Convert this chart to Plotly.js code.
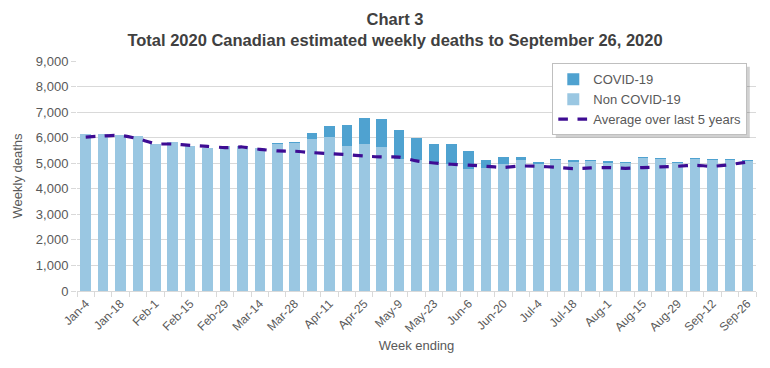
<!DOCTYPE html>
<html>
<head>
<meta charset="utf-8">
<script src="https://cdn.plot.ly/plotly-3.0.1.min.js"></script>
<style>html,body{margin:0;padding:0;background:#fff;}#chart{width:770px;height:368px;}</style>
</head>
<body>
<div id="chart"></div>
<script>
const weeks = ["Jan-4","Jan-11","Jan-18","Jan-25","Feb-1","Feb-8","Feb-15","Feb-22","Feb-29","Mar-7",
  "Mar-14","Mar-21","Mar-28","Apr-4","Apr-11","Apr-18","Apr-25","May-2","May-9","May-16",
  "May-23","May-30","Jun-6","Jun-13","Jun-20","Jun-27","Jul-4","Jul-11","Jul-18","Jul-25",
  "Aug-1","Aug-8","Aug-15","Aug-22","Aug-29","Sep-5","Sep-12","Sep-19","Sep-26"];
const nonCovid = [6130,6130,6100,6065,5765,5815,5690,5595,5690,5660,
  5610,5770,5800,5965,6030,5660,5765,5630,5180,5130,
  5010,4985,4760,4830,4960,5115,4985,5125,5060,5100,
  5020,5020,5200,5180,5010,5180,5115,5115,5090];
const covid = [0,0,0,0,0,0,0,0,0,0,
  0,35,35,205,420,820,990,1085,1110,855,
  755,755,705,285,295,135,65,55,55,25,
  65,30,45,40,40,40,35,35,25];
const avg5 = [6025,6065,6090,5960,5765,5750,5700,5660,5610,5635,
  5545,5480,5470,5415,5375,5335,5280,5245,5240,5090,
  5010,4960,4925,4880,4835,4890,4880,4840,4790,4815,
  4830,4800,4830,4855,4880,4920,4880,4945,5050];
const tickLabels = weeks.map((w,i)=> i%2===0 ? w : "");

const grey = "#595959";
const traces = [
  {type:"bar", name:"Non COVID-19", x:weeks, y:nonCovid, marker:{color:"#9AC7E2"}, legendrank:2},
  {type:"bar", name:"COVID-19", x:weeks, y:covid, marker:{color:"#4FA2D0"}, legendrank:1},
  {type:"scatter", mode:"lines", name:"Average over last 5 years", x:weeks, y:avg5,
   line:{color:"#3E0C93", width:3.2, dash:"dash", shape:"spline", smoothing:0.6}, legendrank:3}
];
const layout = {
  width:770, height:368,
  margin:{l:77, r:14, t:61, b:77},
  paper_bgcolor:"#fff", plot_bgcolor:"#fff",
  font:{family:"Liberation Sans, Arial, sans-serif", color:grey, size:12},
  barmode:"stack", bargap:0.39,
  title:{text:"<b>Chart 3<br>Total 2020 Canadian estimated weekly deaths to September 26, 2020</b>",
    font:{size:16.5, color:"#404040"}, x:0.513, xanchor:"center", yref:"container", y:0.933, yanchor:"top"},
  xaxis:{type:"category", tickvals:weeks, ticktext:tickLabels, tickangle:-45, tickson:"boundaries",
    ticks:"outside", ticklen:5, tickcolor:"#d9d9d9", showline:true, linecolor:"#d9d9d9",
    showgrid:false, tickfont:{size:12, color:grey},
    title:{text:"Week ending", font:{size:13, color:grey}, standoff:6}},
  yaxis:{range:[0,9000], dtick:1000, tickformat:",", showgrid:true, gridcolor:"#d9d9d9",
    ticks:"outside", ticklen:5, tickcolor:"#d9d9d9", zeroline:false, showline:false,
    tickfont:{size:13, color:grey},
    title:{text:"Weekly deaths", font:{size:13, color:grey}, standoff:10}},
  legend:{x:0.70, y:0.99, xanchor:"left", yanchor:"top", bgcolor:"#fff",
    bordercolor:"#bfbfbf", borderwidth:1, traceorder:"normal",
    font:{size:13, color:grey}, tracegroupgap:0},
  showlegend:true
};
Plotly.newPlot("chart", traces, layout, {displayModeBar:false, staticPlot:true}).then(gd => {
  // soft drop shadow behind the legend box
  const bg = gd.querySelector(".legend .bg");
  if (!bg) return;
  const r = bg.getBoundingClientRect();
  const c = gd.getBoundingClientRect();
  const W = gd._fullLayout.width, H = gd._fullLayout.height;
  const x0 = (r.left - c.left + 3) / W, x1 = (r.right - c.left + 3) / W;
  const y0 = 1 - (r.bottom - c.top + 3) / H, y1 = 1 - (r.top - c.top + 3) / H;
  Plotly.relayout(gd, {shapes:[{type:"rect", xref:"paper", yref:"paper", layer:"above",
    x0: (x0*W - gd._fullLayout.margin.l) / gd._fullLayout._size.w,
    x1: (x1*W - gd._fullLayout.margin.l) / gd._fullLayout._size.w,
    y0: ((y0*H) - gd._fullLayout.margin.b) / gd._fullLayout._size.h,
    y1: ((y1*H) - gd._fullLayout.margin.b) / gd._fullLayout._size.h,
    fillcolor:"rgba(0,0,0,0.18)", line:{width:0}}]});
});
</script>
</body>
</html>
